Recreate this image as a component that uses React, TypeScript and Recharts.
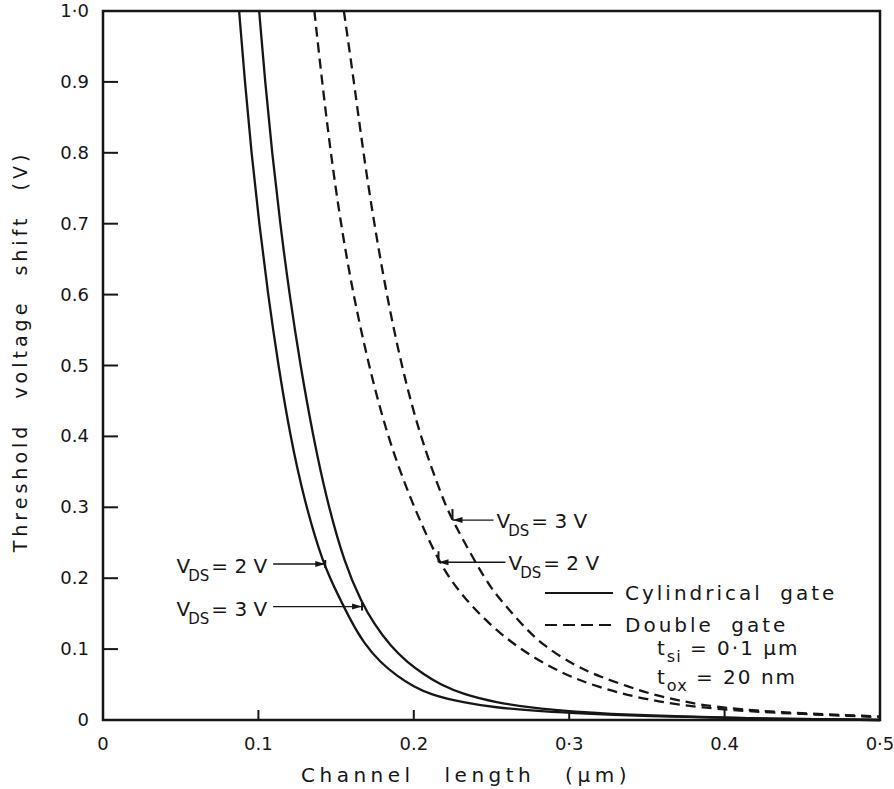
import React from "react";
import { LineChart, Line, XAxis, YAxis, ReferenceArea, ReferenceLine, Legend, Label } from "recharts";

// channel length (um) / threshold voltage shift (V)
const cylX2V = [0.0876, 0.0913, 0.0955, 0.1005, 0.1062, 0.1128, 0.1205, 0.1295, 0.1415, 0.1527, 0.159, 0.1676, 0.1785, 0.1893, 0.2, 0.2107, 0.232, 0.2533, 0.275, 0.3, 0.35, 0.42, 0.5];
const cylY2V = [1.0, 0.9, 0.8, 0.7, 0.6, 0.5, 0.4, 0.31, 0.22, 0.17, 0.142, 0.109, 0.081, 0.062, 0.047, 0.036, 0.0245, 0.0175, 0.0135, 0.01, 0.005, 0.002, 0];

const cylX3V = [0.1005, 0.1043, 0.1088, 0.114, 0.12, 0.127, 0.1352, 0.144, 0.1555, 0.1666, 0.174, 0.185, 0.196, 0.2067, 0.217, 0.232, 0.2533, 0.275, 0.3, 0.35, 0.42, 0.5];
const cylY3V = [1.0, 0.9, 0.8, 0.7, 0.6, 0.5, 0.4, 0.31, 0.22, 0.165, 0.137, 0.104, 0.081, 0.064, 0.05, 0.036, 0.0245, 0.0175, 0.012, 0.006, 0.002, 0];

const dgX2V = [0.136, 0.141, 0.1465, 0.153, 0.161, 0.171, 0.183, 0.198, 0.216, 0.23, 0.248, 0.268, 0.293, 0.317, 0.35, 0.385, 0.43, 0.5];
const dgY2V = [1.0, 0.9, 0.8, 0.7, 0.6, 0.5, 0.4, 0.31, 0.222, 0.178, 0.136, 0.1, 0.068, 0.047, 0.028, 0.017, 0.01, 0.004];

const dgX3V = [0.155, 0.1615, 0.1675, 0.1745, 0.1825, 0.192, 0.204, 0.219, 0.2245, 0.247, 0.258, 0.269, 0.283, 0.305, 0.32, 0.338, 0.355, 0.374, 0.391, 0.43, 0.5];
const dgY3V = [1.0, 0.9, 0.8, 0.7, 0.6, 0.5, 0.4, 0.31, 0.283, 0.1925, 0.164, 0.136, 0.105, 0.075, 0.061, 0.047, 0.035, 0.026, 0.019, 0.011, 0.005];

const xTicks = [0, 0.1, 0.2, 0.3, 0.4, 0.5];
const xTickLabels = ["0", "0.1", "0.2", "0·3", "0.4", "0·5"];
const yTicks = [0, 0.1, 0.2, 0.3, 0.4, 0.5, 0.6, 0.7, 0.8, 0.9, 1.0];
const yTickLabels = ["0", "0.1", "0.2", "0.3", "0.4", "0.5", "0.6", "0.7", "0.8", "0.9", "1·0"];

// leader lines: text side -> curve side, at a given shift value
const annotations = [
  { volts: "2 V", from: 0.1095, to: 0.143, at: 0.22, bend: false },
  { volts: "3 V", from: 0.1095, to: 0.1667, at: 0.16, bend: false },
  { volts: "3 V", from: 0.2513, to: 0.2249, at: 0.282, bend: true },
  { volts: "2 V", from: 0.259, to: 0.2159, at: 0.2225, bend: true },
];

const FONT = '"DejaVu Sans", sans-serif';
const INK = "#161616";

const toPoints = (xs: number[], ys: number[]) => xs.map((x, i) => ({ x, v: ys[i] }));

const YTick = (props: any) => {
  const { x, y, payload } = props;
  const axisX = x + 14;
  const i = yTicks.indexOf(payload.value);
  const inner = payload.value > 0 && payload.value < 1;
  return (
    <g>
      {inner && <line x1={axisX} y1={y} x2={axisX + 15} y2={y} stroke={INK} strokeWidth={2} />}
      <text x={x} y={y + 6} textAnchor="end" fontFamily={FONT} fontSize={18} fill={INK}>
        {yTickLabels[i]}
      </text>
    </g>
  );
};

const XTick = (props: any) => {
  const { x, y, payload } = props;
  const axisY = y - 10;
  const i = xTicks.indexOf(payload.value);
  const inner = payload.value > 0 && payload.value < 0.5;
  return (
    <g>
      {inner && <line x1={x} y1={axisY} x2={x} y2={axisY - 10} stroke={INK} strokeWidth={2} />}
      <text x={x} y={axisY + 30} textAnchor="middle" fontFamily={FONT} fontSize={18} fill={INK}>
        {xTickLabels[i]}
      </text>
    </g>
  );
};

const VdsText = ({ x, y, anchor, volts }: any) => (
  <text x={x} y={y} textAnchor={anchor} fontFamily={FONT} fontSize={20} fill={INK}>
    <tspan>V</tspan>
    <tspan fontSize={15} dy={8} dx={-2}>DS</tspan>
    <tspan dy={-8} dx={2}>{"= " + volts}</tspan>
  </text>
);

const leader = (a: any) => (p: any) => {
  const { x1, y1, x2 } = p;
  const dir = x2 > x1 ? 1 : -1;
  const head = `${x2},${y1} ${x2 - dir * 10},${y1 - 3} ${x2 - dir * 10},${y1 + 3}`;
  return (
    <g>
      <line x1={x1} y1={y1} x2={x2} y2={y1} stroke={INK} strokeWidth={1.3} />
      <polygon points={head} fill={INK} />
      {a.bend ? (
        <line x1={x2} y1={y1} x2={x2} y2={y1 - 11} stroke={INK} strokeWidth={2} />
      ) : (
        <line x1={x2} y1={y1 - 4} x2={x2} y2={y1 + 4} stroke={INK} strokeWidth={2} />
      )}
      {dir > 0 ? (
        <VdsText x={x1 - 6} y={y1 + 9} anchor="end" volts={a.volts} />
      ) : (
        <VdsText x={x1 + 3} y={y1 + 8} anchor="start" volts={a.volts} />
      )}
    </g>
  );
};

const subStyle = { fontSize: 16, position: "relative" as const, top: 7, letterSpacing: 1 };

const renderLegend = () => (
  <div style={{ fontFamily: FONT, fontSize: 20, color: INK, letterSpacing: 3, wordSpacing: 8, lineHeight: "24px" }}>
    <div style={{ display: "flex", alignItems: "center", height: 32 }}>
      <svg width={68} height={4}>
        <line x1={0} y1={2} x2={68} y2={2} stroke={INK} strokeWidth={2} />
      </svg>
      <span style={{ marginLeft: 12 }}>Cylindrical gate</span>
    </div>
    <div style={{ display: "flex", alignItems: "center", height: 32 }}>
      <svg width={68} height={4}>
        <line x1={0} y1={2} x2={68} y2={2} stroke={INK} strokeWidth={2} strokeDasharray="12 6" />
      </svg>
      <span style={{ marginLeft: 12 }}>Double gate</span>
    </div>
    <div style={{ marginLeft: 112, marginTop: -5, height: 29, letterSpacing: 2, wordSpacing: 0 }}>
      t<span style={subStyle}>si</span> = 0·1 µm
    </div>
    <div style={{ marginLeft: 112, height: 29, letterSpacing: 2, wordSpacing: 0 }}>
      t<span style={subStyle}>ox</span> = 20 nm
    </div>
  </div>
);

const YTitle = (props: any) => {
  const { x, y, height } = props.viewBox;
  const cx = x + 20;
  const cy = y + height / 2 - 14;
  return (
    <text x={cx} y={cy} transform={`rotate(-90 ${cx} ${cy})`} textAnchor="middle" dominantBaseline="central"
      fontFamily={FONT} fontSize={19} letterSpacing={4} wordSpacing={14} fill={INK}>
      Threshold voltage shift (V)
    </text>
  );
};

const XTitle = (props: any) => {
  const { y } = props.viewBox;
  return (
    <text x={466} y={y + 62} textAnchor="middle" fontFamily={FONT} fontSize={20} letterSpacing={4.5}
      wordSpacing={19} fill={INK}>
      Channel length (µm)
    </text>
  );
};

export default function App() {
  return (
    <div style={{ position: "absolute", left: 0, top: 0, background: "#fff" }}>
      <LineChart width={894} height={789} margin={{ top: 11, right: 14, left: 0, bottom: 0 }}>
        <XAxis type="number" dataKey="x" domain={[0, 0.5]} ticks={xTicks} height={69} axisLine={false}
          tickLine={false} tickSize={0} tickMargin={10} tick={<XTick />} interval={0}>
          <Label content={<XTitle />} />
        </XAxis>
        <YAxis type="number" domain={[0, 1]} ticks={yTicks} width={103} axisLine={false} tickLine={false}
          tickSize={0} tickMargin={14} tick={<YTick />} interval={0}>
          <Label content={<YTitle />} />
        </YAxis>
        <ReferenceArea x1={0} x2={0.5} y1={0} y2={1} fill="none" fillOpacity={0} stroke={INK} strokeWidth={2.5} />
        <Line data={toPoints(cylX2V, cylY2V)} dataKey="v" type="basis" dot={false} stroke={INK}
          strokeWidth={2.3} isAnimationActive={false} />
        <Line data={toPoints(cylX3V, cylY3V)} dataKey="v" type="basis" dot={false} stroke={INK}
          strokeWidth={2.3} isAnimationActive={false} />
        <Line data={toPoints(dgX2V, dgY2V)} dataKey="v" type="basis" dot={false} stroke={INK}
          strokeWidth={2.3} strokeDasharray="10 6" isAnimationActive={false} />
        <Line data={toPoints(dgX3V, dgY3V)} dataKey="v" type="basis" dot={false} stroke={INK}
          strokeWidth={2.3} strokeDasharray="10 6" isAnimationActive={false} />
        {annotations.map((a, i) => (
          <ReferenceLine key={i} segment={[{ x: a.from, y: a.at }, { x: a.to, y: a.at }]} shape={leader(a)} />
        ))}
        <Legend layout="vertical" align="center" verticalAlign="middle" content={renderLegend}
          wrapperStyle={{ left: 545, top: 577, width: 320 }} />
      </LineChart>
    </div>
  );
}
